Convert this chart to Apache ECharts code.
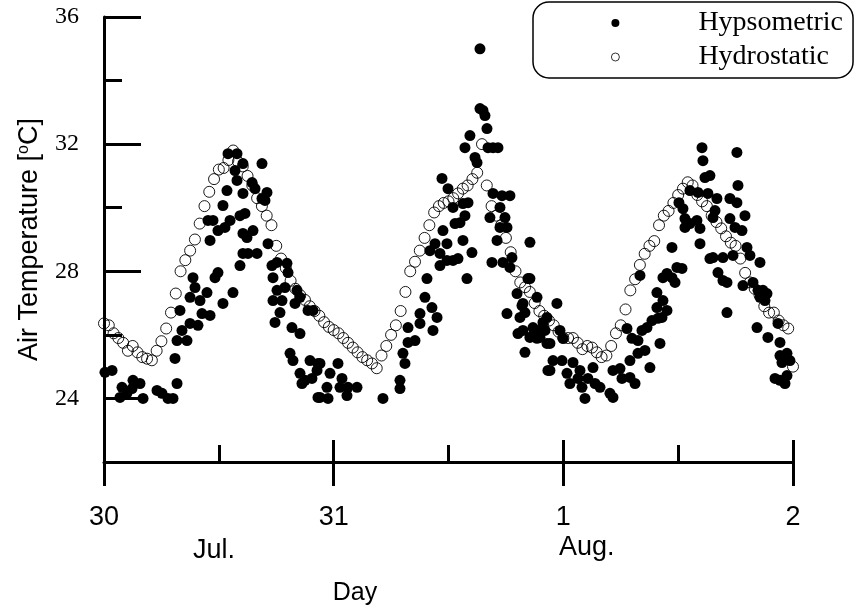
<!DOCTYPE html>
<html><head><meta charset="utf-8">
<script src="https://cdn.jsdelivr.net/npm/echarts@6/dist/echarts.min.js"></script>
<style>html,body{margin:0;padding:0;background:#fff}#c{width:865px;height:615px}</style>
</head><body><div id="c"></div>
<script>
// Hours since 30 Jul 00:00
const xTickValues = [0, 24, 48, 72];
const xTickLabels = ['30', '31', '1', '2'];
const xMinorTicks = [12, 36, 60];
const yTickValues = [24, 28, 32, 36];
const yMinorTicks = [26, 30, 34];
const monthLabels = ['Jul.', 'Aug.'];

// Hydrostatic: every 0.5 h from 0 to 72 h
const hydroStep = 0.5;
const hydroTemps = [
26.36,26.3,26.05,25.9,25.75,25.5,25.65,25.45,25.3,25.25,25.2,25.5,25.8,26.2,26.7,27.3,28.0,28.35,28.65,29.0,
29.5,30.05,30.5,30.9,31.2,31.25,31.5,31.8,31.45,31.3,31.0,30.7,30.3,30.05,29.75,29.45,28.8,28.4,28.1,27.7,
27.45,27.25,27.1,26.9,26.75,26.6,26.4,26.25,26.15,26.05,25.9,25.75,25.6,25.45,25.3,25.2,25.1,24.95,25.35,25.65,
26.0,26.3,26.75,27.35,28.0,28.3,28.65,29.05,29.45,29.85,30.05,30.15,30.2,30.3,30.45,30.6,30.7,30.9,31.1,32.0,
30.7,30.05,29.75,29.45,29.05,28.6,28.0,27.65,27.5,27.35,27.0,26.75,26.6,26.45,26.3,26.1,25.9,25.9,25.9,25.75,
25.55,25.65,25.6,25.45,25.3,25.35,25.65,26.05,26.3,26.8,27.4,27.75,28.2,28.55,28.8,28.95,29.45,29.75,29.9,30.15,
30.4,30.6,30.8,30.7,30.4,30.2,30.05,29.75,29.55,29.35,29.1,28.9,28.8,28.4,27.95,27.65,27.45,27.25,26.9,26.7,
26.7,26.45,26.3,26.2,25.0
];

// Hypsometric: scattered readings (hour, temperature)
const hypsoHours = [
0.1,0.84,1.67,1.88,2.40,2.93,3.03,3.76,4.08,5.54,6.06,6.69,7.21,7.63,7.42,7.63,8.15,8.67,8.99,9.82,
7.94,8.99,9.51,9.30,10.03,10.76,10.24,11.08,11.60,11.91,12.43,13.48,14.21,14.52,10.87,11.39,11.08,11.91,12.64,13.17,
12.43,12.85,12.96,13.90,13.69,13.90,14.52,14.52,14.21,14.52,15.47,15.78,16.51,17.03,16.51,16.82,15.57,14.94,15.05,15.99,
14.73,17.14,17.55,18.08,19.12,19.23,17.66,18.08,18.91,20.17,17.66,18.60,20.48,18.39,19.96,17.87,19.64,20.48,21.32,21.84,
19.44,19.75,20.48,21.00,21.53,22.26,22.36,22.36,20.69,21.73,22.57,
24.45,23.62,23.30,24.66,25.50,26.44,24.87,23.41,25.39,22.57,29.15,30.93,30.93,31.24,31.45,31.77,31.77,32.50,33.02,33.02,
33.54,34.27,34.80,34.38,33.75,34.06,34.59,35.11,35.11,35.84,36.47,35.42,35.84,36.99,37.51,38.45,37.93,35.32,35.95,36.47,
36.68,37.20,37.51,38.04,37.72,38.24,37.72,38.77,38.98,39.29,39.60,39.81,40.02,40.13,40.65,41.17,39.29,40.65,41.59,42.42,
41.38,40.33,41.90,41.38,42.11,41.07,44.51,40.54,41.69,42.63,42.42,44.30,43.16,43.68,43.47,42.11,45.25,43.26,43.99,44.83,
45.56,46.29,46.29,46.39,44.51,43.78,43.99,44.83,45.35,45.87,46.08,44.51,45.25,43.78,47.33,46.60,47.65,47.96,46.92,47.86,49.01,
46.60,48.38,49.74,51.10,48.69,49.53,49.95,50.57,51.31,51.83,50.26,52.87,53.19,53.92,54.13,53.19,54.96,55.49,54.96,55.80,
56.53,57.05,55.17,55.80,54.65,56.22,56.74,57.26,57.89,58.10,57.78,57.78,58.41,56.01,59.35,59.35,59.87,60.40,59.67,58.83,
58.41,58.83,58.31,60.08,60.50,60.71,61.23,60.71,61.96,62.28,61.23,62.07,62.28,62.59,62.49,62.80,63.32,63.11,64.05,63.85,
63.64,63.32,63.64,64.68,64.16,64.68,65.10,65.10,66.14,66.25,65.41,66.14,65.41,65.94,66.67,66.98,65.73,67.19,67.50,68.55,
66.77,67.82,68.34,68.86,68.55,69.28,69.07,68.24,69.38,70.43,70.64,70.64,71.37,70.85,71.68,70.12,70.64,71.16,71.37
];
const hypsoTemps = [
24.82,24.88,24.03,24.35,24.16,24.31,24.57,24.47,24.0,24.25,24.16,24.0,24.0,24.47,25.26,25.82,26.14,25.82,26.36,26.30,
26.77,27.18,27.49,27.80,27.08,27.33,26.67,26.61,27.80,27.96,26.99,27.33,28.18,28.56,29.60,29.60,28.97,29.28,29.38,29.60,
30.07,30.54,31.70,31.70,31.17,30.86,31.39,30.45,29.75,29.19,30.79,30.60,31.39,30.48,30.29,30.23,29.28,29.06,28.56,28.56,
29.82,28.87,28.18,28.28,28.25,27.96,27.80,27.40,27.49,27.40,27.08,27.08,27.18,26.70,26.99,26.39,26.23,26.04,26.77,26.77,
25.42,25.19,24.79,24.57,25.19,24.88,24.03,25.10,24.47,24.63,24.03,
25.10,24.79,24.35,24.35,24.35,24.35,24.63,24.0,24.09,25.10,24.0,24.57,24.31,25.42,25.10,26.23,25.76,25.82,26.36,26.67,
27.18,26.86,26.55,26.14,27.77,28.65,28.87,28.56,28.18,28.34,28.34,29.28,28.87,28.40,28.97,28.59,27.77,30.92,30.60,30.01,
29.50,29.53,30.13,30.16,29.75,32.27,31.89,31.58,31.42,33.12,33.06,32.90,32.49,31.89,31.89,31.89,35.0,30.45,30.38,30.38,
30.01,29.69,29.69,29.38,29.38,28.97,28.91,28.28,28.28,28.43,28.12,27.77,27.30,26.92,26.55,26.67,27.18,26.04,25.45,25.98,
25.92,25.73,26.55,24.88,27.77,26.99,26.70,26.23,26.14,26.39,26.14,25.92,25.89,26.14,26.99,25.73,26.14,25.89,25.19,25.19,25.13,
24.88,24.79,24.88,24.97,24.47,24.63,24.35,24.63,24.47,24.35,24.0,24.16,24.88,24.94,24.63,24.03,24.66,24.47,25.19,25.42,
25.51,24.97,25.89,25.82,26.20,26.14,26.23,26.45,26.52,25.73,26.86,27.33,27.80,27.87,28.75,27.80,28.12,28.09,27.65,27.93,
27.08,26.77,26.55,30.16,29.97,29.66,29.50,29.38,29.60,29.35,30.54,30.48,28.87,31.48,31.89,30.95,31.01,30.45,30.29,29.91,
29.69,28.40,28.43,28.43,27.96,27.71,27.65,26.70,31.74,30.70,30.29,30.16,29.66,29.38,29.28,29.75,28.50,28.75,28.50,28.28,
27.55,27.65,27.40,27.40,27.18,27.30,27.08,26.23,25.92,26.36,25.76,25.35,25.42,25.13,25.19,24.63,24.57,24.47,24.72
];

const hydroData = hydroTemps.map((t, i) => [i * hydroStep, t]);
const nH = Math.min(hypsoHours.length, hypsoTemps.length);
const hypsoData = [];
for (let i = 0; i < nH; i++) hypsoData.push([hypsoHours[i], hypsoTemps[i]]);

const chart = echarts.init(document.getElementById('c'), null, {renderer: 'canvas'});
const sans = 'Liberation Sans';
const serif = 'Liberation Serif';
const grid = {left: 104, right: 72, top: 17, bottom: 153};
const xBase = {type: 'value', min: 0, max: 72, gridIndex: 0, splitLine: {show: false}};
const yBase = {type: 'value', min: 22, max: 36, gridIndex: 0, splitLine: {show: false}};

chart.setOption({
  animation: false,
  backgroundColor: '#fff',
  grid: grid,
  legend: {
    orient: 'vertical', left: 533, top: 2,
    padding: [6, 10, 6, 78], itemGap: 4, itemWidth: 8, itemHeight: 8,
    borderColor: '#000', borderWidth: 1.5, borderRadius: 16,
    textStyle: {fontFamily: serif, fontSize: 28, color: '#000', padding: [0, 0, 0, 74], lineHeight: 30},
    data: [
      {name: 'Hypsometric', icon: 'circle', itemStyle: {color: '#000'}},
      {name: 'Hydrostatic', icon: 'circle', itemStyle: {color: '#fff', borderColor: '#000', borderWidth: 0.8}}
    ]
  },
  xAxis: [
    Object.assign({}, xBase, {
      position: 'bottom',
      axisLine: {show: true, lineStyle: {color: '#000', width: 3}},
      axisTick: {show: true, inside: false, length: 24, lineStyle: {color: '#000', width: 3}, customValues: xTickValues},
      axisLabel: {show: true, customValues: xTickValues, margin: 42, fontFamily: sans, fontSize: 27, color: '#000',
        formatter: v => { const i = xTickValues.indexOf(v); return i >= 0 ? xTickLabels[i] : ''; }},
      name: 'Day', nameLocation: 'middle', nameGap: 119,
      nameTextStyle: {fontFamily: sans, fontSize: 25, color: '#000', padding: [0, 187, 0, 0]}
    }),
    Object.assign({}, xBase, {
      position: 'bottom', axisLine: {show: false},
      axisTick: {show: true, inside: true, length: 22, lineStyle: {color: '#000', width: 3}, customValues: xTickValues},
      axisLabel: {show: false}
    }),
    Object.assign({}, xBase, {
      position: 'bottom', axisLine: {show: false},
      axisTick: {show: true, inside: true, length: 17, lineStyle: {color: '#000', width: 3}, customValues: xMinorTicks},
      axisLabel: {show: false}
    })
  ],
  yAxis: [
    Object.assign({}, yBase, {
      position: 'left',
      axisLine: {show: true, lineStyle: {color: '#000', width: 3}},
      axisTick: {show: true, inside: true, length: 37, lineStyle: {color: '#000', width: 3}, customValues: yTickValues},
      axisLabel: {show: true, customValues: yTickValues, margin: 25, fontFamily: serif, fontSize: 24, color: '#000'},
      name: 'Air Temperature [{sup|o}C]', nameLocation: 'middle', nameGap: 61, nameRotate: 90,
      nameTextStyle: {fontFamily: sans, fontSize: 27, color: '#000',
        rich: {sup: {fontFamily: sans, fontSize: 16, color: '#000', padding: [0, 0, 11, 0]}}}
    }),
    Object.assign({}, yBase, {
      position: 'left', axisLine: {show: false},
      axisTick: {show: true, inside: true, length: 18, lineStyle: {color: '#000', width: 3}, customValues: yMinorTicks},
      axisLabel: {show: false}
    })
  ],
  graphic: [
    {type: 'text', x: 214, y: 551, style: {text: monthLabels[0], fontFamily: sans, fontSize: 27, fill: '#000', align: 'center', verticalAlign: 'middle'}},
    {type: 'text', x: 559, y: 548, style: {text: monthLabels[1], fontFamily: sans, fontSize: 27, fill: '#000', align: 'left', verticalAlign: 'middle'}}
  ],
  series: [
    {name: 'Hypsometric', type: 'scatter', xAxisIndex: 0, yAxisIndex: 0, data: hypsoData,
      symbol: 'circle', symbolSize: 11, itemStyle: {color: '#000', opacity: 1}, emphasis: {disabled: true}},
    {name: 'Hydrostatic', type: 'scatter', xAxisIndex: 0, yAxisIndex: 0, data: hydroData,
      symbol: 'circle', symbolSize: 11, itemStyle: {color: 'rgba(255,255,255,0)', borderColor: '#000', borderWidth: 0.9, opacity: 1}, emphasis: {disabled: true}}
  ]
});
</script>
</body></html>
